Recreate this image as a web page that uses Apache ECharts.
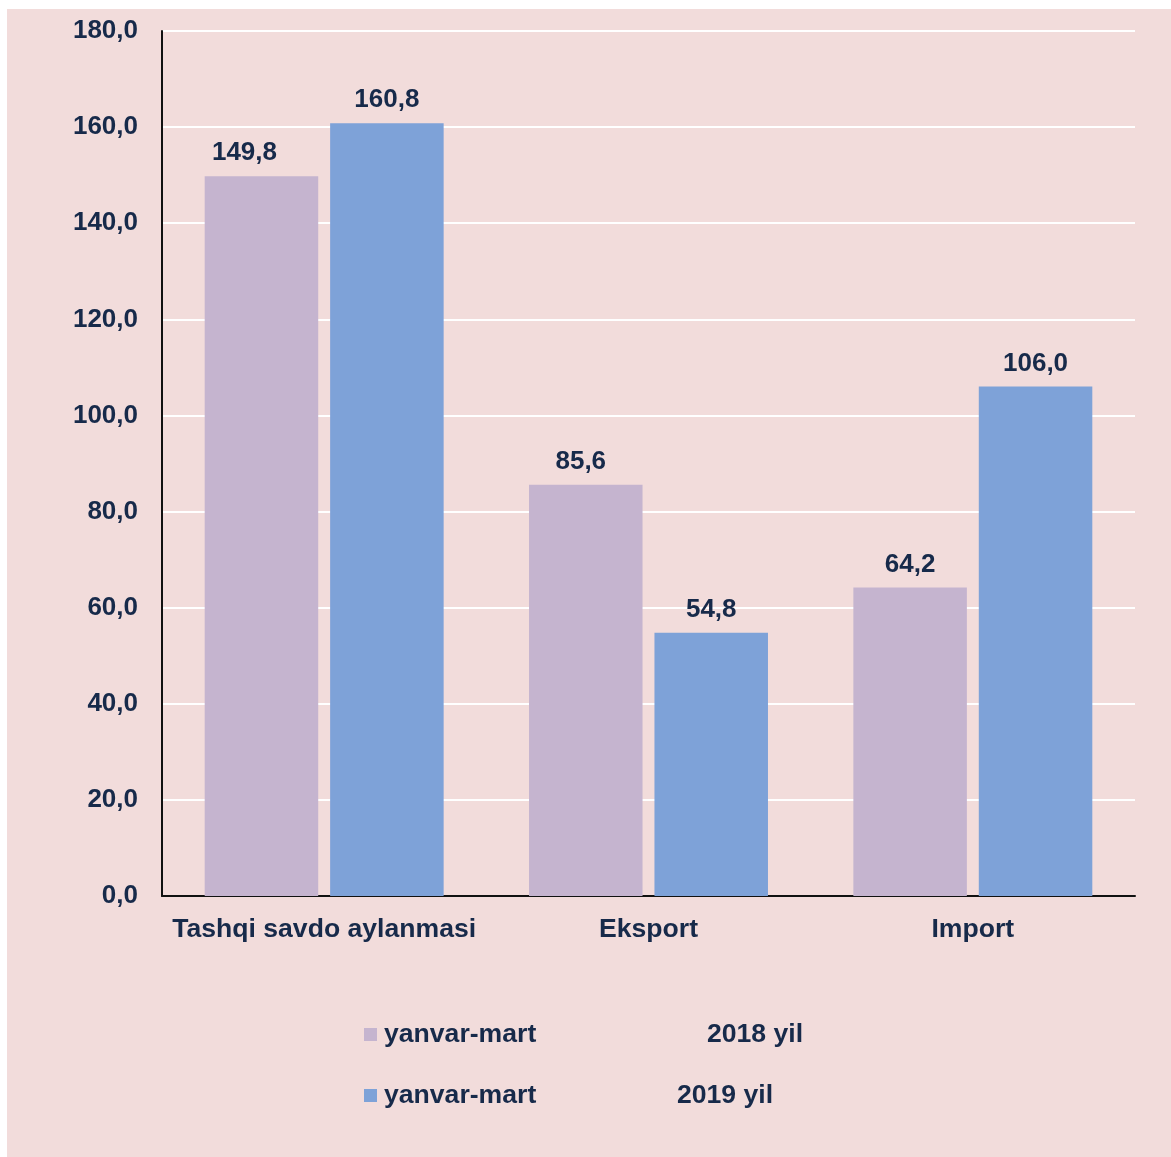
<!DOCTYPE html>
<html>
<head>
<meta charset="utf-8">
<script src="https://cdn.jsdelivr.net/npm/echarts@6/dist/echarts.min.js"></script>
<style>
html,body{margin:0;padding:0;background:#ffffff;}
#c{width:1171px;height:1157px;}
</style>
</head>
<body>
<div id="c"></div>
<script>
const categories = ['Tashqi savdo aylanmasi', 'Eksport', 'Import'];
const seriesNames = ['yanvar-mart 2018 yil', 'yanvar-mart 2019 yil'];
const values2018 = [149.8, 85.6, 64.2];
const values2019 = [160.8, 54.8, 106.0];
const yTicks = [0, 20, 40, 60, 80, 100, 120, 140, 160, 180];

const textColor = '#172a4a';
const font = 'Liberation Sans, Arial, sans-serif';
const fmt = v => v.toFixed(1).replace('.', ',');
// manual label nudges seen in the original (first series only)
const labelShift2018 = [[-17, 0], [-5, 0], [0, 0]];

const labelStyle = { show: true, position: 'top', distance: 10, fontFamily: font, fontWeight: 'bold', fontSize: 26, color: textColor, formatter: p => fmt(p.value) };

const chart = echarts.init(document.getElementById('c'));
chart.setOption({
  backgroundColor: '#ffffff',
  animation: false,
  graphic: [{
    type: 'rect', z: -10, silent: true,
    shape: { x: 7, y: 9, width: 1164, height: 1148 },
    style: { fill: '#f2dcdb' }
  }],
  grid: { left: 162, right: 36, top: 31, bottom: 261, containLabel: false },
  legend: {
    orient: 'vertical',
    left: 359,
    top: 1016,
    itemWidth: 13,
    itemHeight: 13,
    itemGap: 34,
    icon: 'rect',
    data: seriesNames,
    textStyle: { fontFamily: font, fontWeight: 'bold', fontSize: 26.6, color: textColor,
      rich: {
        a1: { fontFamily: font, fontWeight: 'bold', fontSize: 26.6, color: textColor, width: 323, padding: [0, 0, 0, 2] },
        a2: { fontFamily: font, fontWeight: 'bold', fontSize: 26.6, color: textColor, width: 293, padding: [0, 0, 0, 2] },
        b: { fontFamily: font, fontWeight: 'bold', fontSize: 26.6, color: textColor }
      }
    },
    formatter: function (name) {
      const first = name.slice(0, name.indexOf(' '));
      const second = name.slice(name.indexOf(' ') + 1);
      const st = name === seriesNames[0] ? 'a1' : 'a2';
      return '{' + st + '|' + first + '}{b|' + second + '}';
    }
  },
  xAxis: {
    type: 'category',
    data: categories,
    axisLine: { lineStyle: { color: '#111111', width: 2 } },
    axisTick: { show: false },
    axisLabel: { interval: 0, fontFamily: font, fontWeight: 'bold', fontSize: 26.6, color: textColor, margin: 20 }
  },
  yAxis: {
    type: 'value',
    min: yTicks[0],
    max: yTicks[yTicks.length - 1],
    interval: 20,
    axisLine: { show: true, lineStyle: { color: '#111111', width: 2 } },
    axisTick: { show: false },
    splitLine: { lineStyle: { color: '#ffffff', width: 2 } },
    axisLabel: { fontFamily: font, fontWeight: 'bold', fontSize: 26, lineHeight: 26, color: textColor, margin: 24, padding: [6, 0, 0, 0], formatter: v => fmt(v) }
  },
  series: [
    {
      name: seriesNames[0], type: 'bar',
      data: values2018.map((v, i) => ({ value: v, label: { offset: labelShift2018[i] } })),
      barWidth: '35%', barGap: '10.5%',
      itemStyle: { color: '#c5b4cf' },
      label: labelStyle
    },
    {
      name: seriesNames[1], type: 'bar', data: values2019,
      barWidth: '35%', barGap: '10.5%',
      itemStyle: { color: '#7ea2d8' },
      label: labelStyle
    }
  ]
});
</script>
</body>
</html>
